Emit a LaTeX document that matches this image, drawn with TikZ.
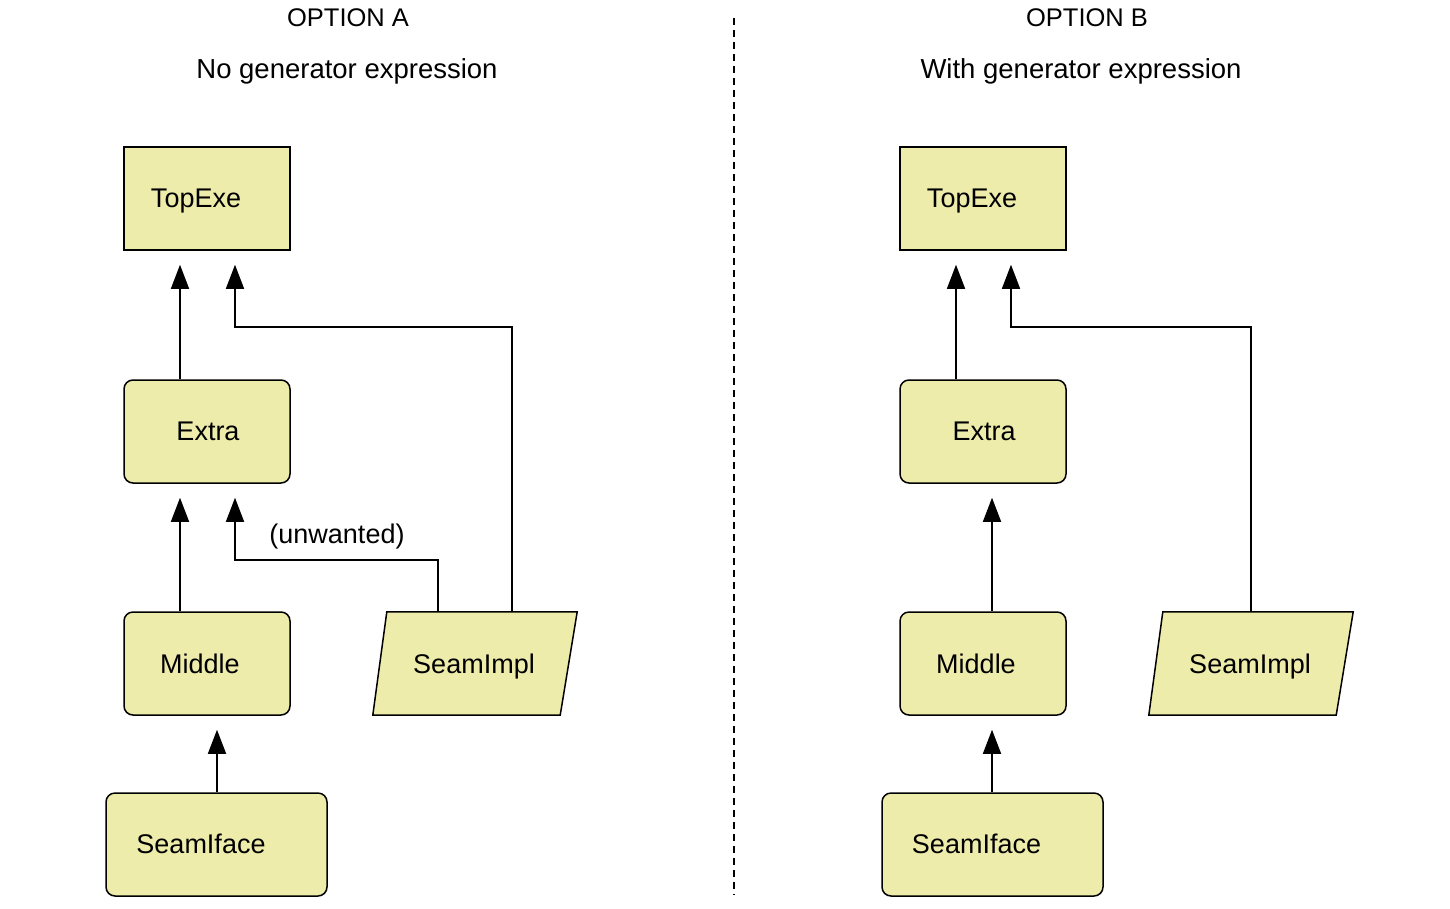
\documentclass[tikz,border=0pt]{standalone}
\usepackage{fontspec}
\setmainfont{Liberation Sans}
\usetikzlibrary{arrows.meta}
\definecolor{boxfill}{HTML}{EEECAA}
\begin{document}
\begin{tikzpicture}[x=1pt,y=-1pt,
  box/.style={draw=black,fill=boxfill,line width=1.5pt,minimum width=166pt,minimum height=103pt,inner sep=0pt},
  rbox/.style={box,rounded corners=9pt},
  pframe/.style={inner sep=0pt,minimum width=204pt,minimum height=103pt},
  pline/.style={draw=black,fill=boxfill,line width=1.5pt,line join=miter},
  lbl/.style={font=\fontsize{27}{32}\selectfont,inner sep=0pt,anchor=base},
  sub/.style={font=\fontsize{27.5}{32}\selectfont,inner sep=0pt,anchor=base},
  head/.style={font=\fontsize{25.5}{30}\selectfont,inner sep=0pt,anchor=base},
  conn/.style={line width=1.5pt,-{Triangle[length=24pt,width=18pt]},shorten >=14pt},
]
\useasboundingbox (0,0) rectangle (1450,908);

% headings
\node[head] (hA) at (348,26) {OPTION A};
\node[sub] (sA) at (347,78) {No generator expression};
\node[head] (hB) at (1087,26) {OPTION B};
\node[sub] (sB) at (1081,78) {With generator expression};

% divider
\coordinate (dtop) at (734,18);
\coordinate (dbot) at (734,895);
\draw[line width=1.3pt,dash pattern=on 7pt off 5pt] (dtop) -- (dbot);

% ---------- Option A ----------
\node[box] (topA) at (207,198.5) {};
\node[rbox] (extraA) at (207,431.5) {};
\node[rbox] (middleA) at (207,663.5) {};
\node[rbox,minimum width=221pt] (ifaceA) at (216.5,844.5) {};
\node[pframe] (implA) at (475,663.5) {};
\path[pline] ([xshift=14pt]implA.north west) -- (implA.north east) -- ([xshift=-17pt]implA.south east) -- (implA.south west) -- cycle;

\node[lbl] (tTopA) at (196,207) {TopExe};
\node[lbl] (tExtraA) at (208,440) {Extra};
\node[lbl] (tMiddleA) at (200,673) {Middle};
\node[lbl] (tIfaceA) at (201,853) {SeamIface};
\node[lbl] (tImplA) at (474,673) {SeamImpl};
\node[lbl] (unw) at (337,543) {(unwanted)};

\draw[conn] ([xshift=-27pt]extraA.north) -- ([xshift=-27pt]topA.south);
\draw[conn] ([xshift=37pt]implA.north) -- ++(0,-285) -| ([xshift=28pt]topA.south);
\draw[conn] ([xshift=-27pt]middleA.north) -- ([xshift=-27pt]extraA.south);
\draw[conn] ([xshift=-37pt]implA.north) -- ++(0,-52) -| ([xshift=28pt]extraA.south);
\draw[conn] ([xshift=0.5pt]ifaceA.north) -- ([xshift=0.5pt]ifaceA.north |- middleA.south);

% ---------- Option B ----------
\node[box] (topB) at (983,198.5) {};
\node[rbox] (extraB) at (983,431.5) {};
\node[rbox] (middleB) at (983,663.5) {};
\node[rbox,minimum width=221pt] (ifaceB) at (992.5,844.5) {};
\node[pframe] (implB) at (1251,663.5) {};
\path[pline] ([xshift=14pt]implB.north west) -- (implB.north east) -- ([xshift=-17pt]implB.south east) -- (implB.south west) -- cycle;

\node[lbl] (tTopB) at (972,207) {TopExe};
\node[lbl] (tExtraB) at (984,440) {Extra};
\node[lbl] (tMiddleB) at (976,673) {Middle};
\node[lbl] (tIfaceB) at (976.5,853) {SeamIface};
\node[lbl] (tImplB) at (1250,673) {SeamImpl};

\draw[conn] ([xshift=-27pt]extraB.north) -- ([xshift=-27pt]topB.south);
\draw[conn] (implB.north) -- ++(0,-285) -| ([xshift=28pt]topB.south);
\draw[conn] ([xshift=9pt]middleB.north) -- ([xshift=9pt]extraB.south);
\draw[conn] ([xshift=-0.5pt]ifaceB.north) -- ([xshift=-0.5pt]ifaceB.north |- middleB.south);
\end{tikzpicture}
\end{document}
